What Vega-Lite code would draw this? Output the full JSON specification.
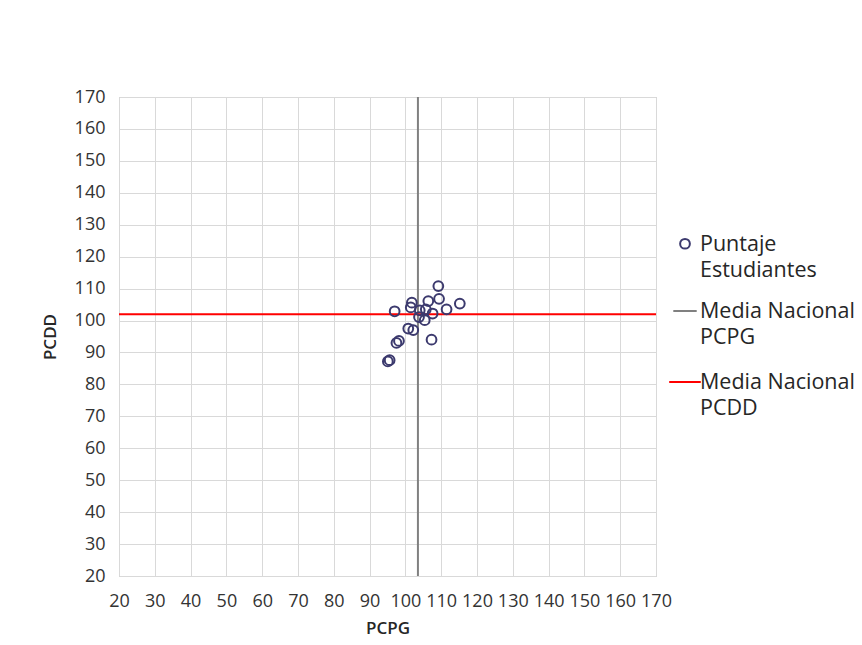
{
  "$schema": "https://vega.github.io/schema/vega-lite/v6.json",
  "autosize": {"type": "none"},
  "width": 537,
  "height": 479,
  "padding": {"left": 119, "top": 97, "right": 206, "bottom": 69},
  "background": "white",
  "config": {
    "font": "Open Sans",
    "view": {"stroke": "#bfbfbf", "strokeWidth": 1},
    "style": {"guide-label": {"lineHeight": 26, "dy": -10}},
    "axis": {
      "labelFont": "Open Sans",
      "labelFontSize": 18,
      "labelColor": "#333333",
      "labelOverlap": false,
      "labelFlush": false,
      "titleFont": "Open Sans",
      "titleFontSize": 17,
      "titleFontWeight": 600,
      "titleColor": "#262626",
      "gridColor": "#d9d9d9",
      "gridWidth": 1,
      "domain": false,
      "ticks": false
    },
    "legend": {
      "labelFont": "Open Sans",
      "labelFontSize": 21.5,
      "labelColor": "#262626",
      "labelLimit": 300,
      "symbolStrokeWidth": 2
    }
  },
  "datasets": {
    "puntos": [
      {"PCPG": 109.2, "PCDD": 110.8, "serie": "Puntaje Estudiantes"},
      {"PCPG": 115.2, "PCDD": 105.3, "serie": "Puntaje Estudiantes"},
      {"PCPG": 109.4, "PCDD": 106.8, "serie": "Puntaje Estudiantes"},
      {"PCPG": 106.4, "PCDD": 106.1, "serie": "Puntaje Estudiantes"},
      {"PCPG": 101.8, "PCDD": 105.6, "serie": "Puntaje Estudiantes"},
      {"PCPG": 101.5, "PCDD": 104.1, "serie": "Puntaje Estudiantes"},
      {"PCPG": 97.0, "PCDD": 102.9, "serie": "Puntaje Estudiantes"},
      {"PCPG": 111.5, "PCDD": 103.5, "serie": "Puntaje Estudiantes"},
      {"PCPG": 107.6, "PCDD": 102.2, "serie": "Puntaje Estudiantes"},
      {"PCPG": 105.7, "PCDD": 103.5, "serie": "Puntaje Estudiantes"},
      {"PCPG": 104.0, "PCDD": 103.2, "serie": "Puntaje Estudiantes"},
      {"PCPG": 103.8, "PCDD": 101.1, "serie": "Puntaje Estudiantes"},
      {"PCPG": 105.4, "PCDD": 100.1, "serie": "Puntaje Estudiantes"},
      {"PCPG": 100.8, "PCDD": 97.5, "serie": "Puntaje Estudiantes"},
      {"PCPG": 102.2, "PCDD": 97.0, "serie": "Puntaje Estudiantes"},
      {"PCPG": 107.3, "PCDD": 94.0, "serie": "Puntaje Estudiantes"},
      {"PCPG": 98.2, "PCDD": 93.6, "serie": "Puntaje Estudiantes"},
      {"PCPG": 97.5, "PCDD": 93.0, "serie": "Puntaje Estudiantes"},
      {"PCPG": 95.6, "PCDD": 87.6, "serie": "Puntaje Estudiantes"},
      {"PCPG": 95.1, "PCDD": 87.2, "serie": "Puntaje Estudiantes"}
    ],
    "mediaPCPG": [{"PCPG": 103.5, "serie": "Media Nacional PCPG"}],
    "mediaPCDD": [{"PCDD": 102, "serie": "Media Nacional PCDD"}]
  },
  "layer": [
    {
      "data": {"name": "mediaPCPG"},
      "mark": {"type": "rule", "strokeWidth": 2},
      "encoding": {
        "x": {
          "field": "PCPG", "type": "quantitative",
          "scale": {"domain": [20, 170], "nice": false, "zero": false},
          "axis": {"values": [20,30,40,50,60,70,80,90,100,110,120,130,140,150,160,170], "labelPadding": 26, "titlePadding": 10, "title": "PCPG"}
        },
        "color": {"field": "serie", "type": "nominal"}
      }
    },
    {
      "data": {"name": "mediaPCDD"},
      "mark": {"type": "rule", "strokeWidth": 2},
      "encoding": {
        "y": {
          "field": "PCDD", "type": "quantitative",
          "scale": {"domain": [20, 170], "nice": false, "zero": false},
          "axis": {"values": [20,30,40,50,60,70,80,90,100,110,120,130,140,150,160,170], "labelPadding": 14, "labelOffset": 10, "titlePadding": 15, "title": "PCDD"}
        },
        "color": {"field": "serie", "type": "nominal"}
      }
    },
    {
      "data": {"name": "puntos"},
      "mark": {"type": "point", "filled": false, "strokeWidth": 2, "opacity": 1},
      "encoding": {
        "x": {
          "field": "PCPG", "type": "quantitative",
          "scale": {"domain": [20, 170], "nice": false, "zero": false},
          "axis": {"values": [20,30,40,50,60,70,80,90,100,110,120,130,140,150,160,170], "labelPadding": 26, "titlePadding": 10, "title": "PCPG"}
        },
        "y": {
          "field": "PCDD", "type": "quantitative",
          "scale": {"domain": [20, 170], "nice": false, "zero": false},
          "axis": {"values": [20,30,40,50,60,70,80,90,100,110,120,130,140,150,160,170], "labelPadding": 14, "labelOffset": 10, "titlePadding": 15, "title": "PCDD"}
        },
        "color": {
          "field": "serie", "type": "nominal",
          "scale": {
            "domain": ["Puntaje Estudiantes", "Media Nacional PCPG", "Media Nacional PCDD"],
            "range": ["#3c3a6e", "#808080", "#ff0000"]
          },
          "legend": {
            "title": null,
            "orient": "none",
            "legendX": 549,
            "legendY": 136,
            "labelExpr": "split(datum.label, ' ', 2)[0] == 'Puntaje' ? ['Puntaje', 'Estudiantes'] : ['Media Nacional', datum.label == 'Media Nacional PCPG' ? 'PCPG' : 'PCDD']",
            "labelBaseline": "top",
            "labelOffset": -2,
            "rowPadding": 16,
            "encode": {
              "symbols": {"update": {"fill": {"value": "transparent"}, "strokeWidth": {"value": 2}}}
            }
          }
        },
        "shape": {
          "field": "serie", "type": "nominal",
          "scale": {
            "domain": ["Puntaje Estudiantes", "Media Nacional PCPG", "Media Nacional PCDD"],
            "range": ["circle", "stroke", "stroke"]
          },
          "legend": {"title": null}
        },
        "size": {
          "field": "serie", "type": "nominal",
          "scale": {
            "domain": ["Puntaje Estudiantes", "Media Nacional PCPG", "Media Nacional PCDD"],
            "range": [95, 1000, 1000]
          },
          "legend": {"title": null}
        }
      }
    }
  ]
}
